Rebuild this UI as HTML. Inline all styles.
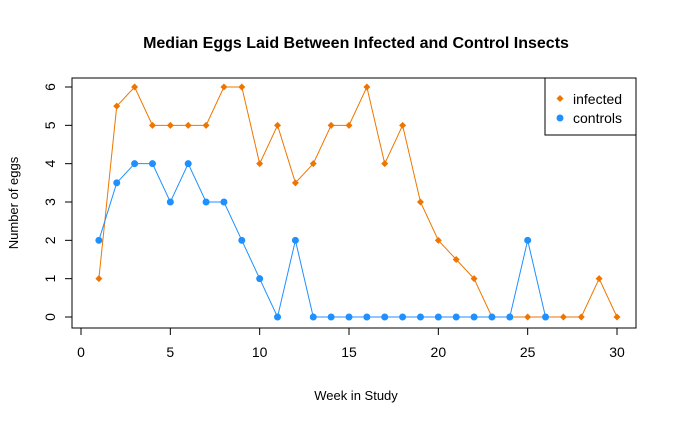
<!DOCTYPE html>
<html><head><meta charset="utf-8"><style>
body{margin:0;background:#fff;}
svg text{font-family:"Liberation Sans",Arial,sans-serif;}
</style></head><body>
<svg id="chart" width="677" height="425" xmlns="http://www.w3.org/2000/svg">
<rect width="677" height="425" fill="#fff"/>
<text x="356" y="48" text-anchor="middle" font-size="16" font-weight="bold">Median Eggs Laid Between Infected and Control Insects</text>
<rect x="72" y="78" width="564" height="250" fill="none" stroke="#000"/>
<text x="356" y="400" text-anchor="middle" font-size="13">Week in Study</text>
<text transform="translate(18,203) rotate(-90)" text-anchor="middle" font-size="13">Number of eggs</text>
<g id="axes"></g><g id="series"></g>
<g>
<rect x="545" y="78" width="91" height="57" fill="#fff" stroke="#000"/>
<path d="M560 95 l3.5 3.5 l-3.5 3.5 l-3.5 -3.5z" fill="#EE7600"/>
<text x="573" y="104" font-size="14">infected</text>
<circle cx="560" cy="118" r="3.5" fill="#1E90FF"/>
<text x="573" y="123" font-size="14">controls</text>
</g>
</svg>
<script>
const infectedWeeks=[1,2,3,4,5,6,7,8,9,10,11,12,13,14,15,16,17,18,19,20,21,22,23,24,25,26,27,28,29,30];
const infectedValues=[1,5.5,6,5,5,5,5,6,6,4,5,3.5,4,5,5,6,4,5,3,2,1.5,1,0,0,0,0,0,0,1,0];
const controlWeeks=[1,2,3,4,5,6,7,8,9,10,11,12,13,14,15,16,17,18,19,20,21,22,23,24,25,26];
const controlValues=[2,3.5,4,4,3,4,3,3,2,1,0,2,0,0,0,0,0,0,0,0,0,0,0,0,2,0];
const xTicks=[0,5,10,15,20,25,30];
const yTicks=[0,1,2,3,4,5,6];
const NS="http://www.w3.org/2000/svg";
const X=v=>81+v*(617-81)/30;
const Y=v=>317-v*(317-87)/6;
function mk(t,a,p){const e=document.createElementNS(NS,t);for(const k in a)e.setAttribute(k,a[k]);p.appendChild(e);return e;}
const ax=document.getElementById('axes');
mk('line',{x1:X(0),x2:X(30),y1:328,y2:328,stroke:'#000'},ax);
xTicks.forEach(t=>{mk('line',{x1:X(t),x2:X(t),y1:328,y2:335,stroke:'#000'},ax);
const tx=mk('text',{x:X(t),y:357,'text-anchor':'middle','font-size':14},ax);tx.textContent=t;

});
mk('line',{x1:72,x2:72,y1:Y(0),y2:Y(6),stroke:'#000'},ax);
yTicks.forEach(t=>{mk('line',{x1:65,x2:72,y1:Y(t),y2:Y(t),stroke:'#000'},ax);
const tx=mk('text',{transform:`translate(55,${Y(t)}) rotate(-90)`,'text-anchor':'middle','font-size':14},ax);tx.textContent=t;

});
const sg=document.getElementById('series');
function series(xs,ys,col,diamond,name){
const l=mk('polyline',{points:xs.map((x,i)=>X(x)+','+Y(ys[i])).join(' '),fill:'none',stroke:col,'stroke-width':1},sg);


xs.forEach((x,i)=>{let m;
if(diamond)m=mk('path',{d:`M${X(x)} ${Y(ys[i])-3.5} l3.5 3.5 l-3.5 3.5 l-3.5 -3.5z`,fill:col},sg);
else m=mk('circle',{cx:X(x),cy:Y(ys[i]),r:3.5,fill:col},sg);

});}
series(infectedWeeks,infectedValues,'#EE7600',true,'infected');
series(controlWeeks,controlValues,'#1E90FF',false,'controls');
</script>
</body></html>
